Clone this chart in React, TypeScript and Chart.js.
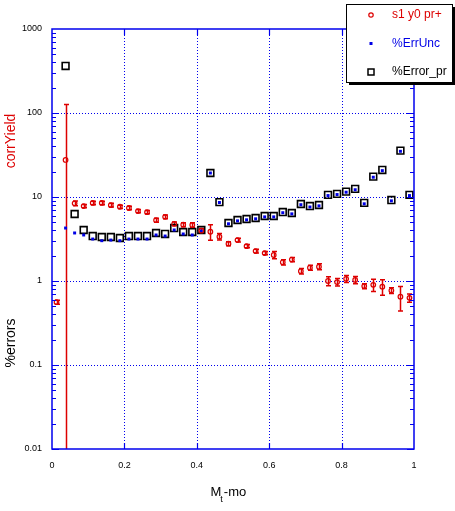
import React, { useEffect, useRef } from 'react';
import { Chart, registerables } from 'chart.js';

Chart.register(...registerables);

// bin centres along M_t - m0
const xBins = [
    0.0125, 0.0375, 0.0625, 0.0875, 0.1125, 0.1375, 0.1625, 0.1875, 0.2125, 0.2375,
    0.2625, 0.2875, 0.3125, 0.3375, 0.3625, 0.3875, 0.4125, 0.4375, 0.4625, 0.4875,
    0.5125, 0.5375, 0.5625, 0.5875, 0.6125, 0.6375, 0.6625, 0.6875, 0.7125, 0.7375,
    0.7625, 0.7875, 0.8125, 0.8375, 0.8625, 0.8875, 0.9125, 0.9375, 0.9625, 0.9875,
];

const corrYield = [
    0.56, 27.6, 8.4, 7.8, 8.5, 8.5, 8.0, 7.65, 7.4, 6.8,
    6.6, 5.3, 5.8, 4.8, 4.68, 4.64, 3.97, 3.86, 3.37, 2.78,
    3.07, 2.6, 2.27, 2.15, 2.04, 1.67, 1.8, 1.31, 1.44, 1.48,
    1.0, 0.97, 1.06, 1.03, 0.87, 0.9, 0.855, 0.77, 0.65, 0.63,
];

const corrYieldErr = [
    0.03, 99, 0.55, 0.35, 0.4, 0.4, 0.4, 0.35, 0.35, 0.3,
    0.3, 0.3, 0.3, 0.25, 0.25, 0.3, 0.25, 0.8, 0.3, 0.15,
    0.15, 0.12, 0.12, 0.1, 0.2, 0.12, 0.1, 0.1, 0.1, 0.12,
    0.12, 0.1, 0.1, 0.1, 0.06, 0.15, 0.18, 0.06, 0.21, 0.07,
];

const errUnc = [
    null, 4.27, 3.73, 3.53, 3.16, 3.02, 3.07, 3.02, 3.16, 3.16,
    3.16, 3.53, 3.43, 4.05, 3.63, 3.53, 3.94, 19.3, 8.6, 4.8,
    5.2, 5.35, 5.5, 5.8, 5.8, 6.5, 6.3, 8.1, 7.6, 7.85,
    10.4, 10.7, 11.4, 12.2, 8.3, 17.2, 20.6, 9.0, 35, 10.4,
];

const errorPr = [
    null, 363, 6.28, 4.05, 3.43, 3.34, 3.34, 3.25, 3.43, 3.43,
    3.43, 3.73, 3.63, 4.27, 3.83, 3.83, 4.05, 19.3, 8.7, 4.9,
    5.32, 5.47, 5.62, 5.94, 5.94, 6.62, 6.45, 8.25, 7.8, 8.03,
    10.6, 10.9, 11.6, 12.5, 8.5, 17.5, 21, 9.2, 35.6, 10.6,
];

const xTickValues = [0, 0.2, 0.4, 0.6, 0.8, 1];
const xTickLabels = ['0', '0.2', '0.4', '0.6', '0.8', '1'];
const yTickValues = [0.01, 0.1, 1, 10, 100, 1000];
const yTickLabels = ['0.01', '0.1', '1', '10', '100', '1000'];

const legendLabels = ['s1 y0 pr+', '%ErrUnc', '%Error_pr'];

const RED = '#dd0000';
const BLUE = '#0000e6';
const AXIS = '#0000ee';
const FONT = '"Liberation Sans", Arial, sans-serif';

const toPoints = (ys: (number | null)[]) =>
    xBins.map((x, i) => ({ x, y: ys[i] })).filter(p => p.y !== null) as { x: number; y: number }[];

const overlay = {
    id: 'overlay',
    beforeDatasetsDraw(chart: any) {
        const { ctx, chartArea: a, scales } = chart;
        const xs = scales.x;
        const ys = scales.y;
        ctx.save();
        // dotted grid at the major ticks
        ctx.strokeStyle = AXIS;
        ctx.lineWidth = 1;
        ctx.setLineDash([1, 2]);
        xTickValues.slice(1, -1).forEach(v => {
            const px = Math.round(xs.getPixelForValue(v)) + 0.5;
            ctx.beginPath();
            ctx.moveTo(px, a.top);
            ctx.lineTo(px, a.bottom);
            ctx.stroke();
        });
        yTickValues.slice(1, -1).forEach(v => {
            const py = Math.round(ys.getPixelForValue(v)) + 0.5;
            ctx.beginPath();
            ctx.moveTo(a.left, py);
            ctx.lineTo(a.right, py);
            ctx.stroke();
        });
        ctx.setLineDash([]);

        // error bars on corrYield
        ctx.beginPath();
        ctx.rect(a.left, a.top, a.right - a.left, a.bottom - a.top);
        ctx.clip();
        ctx.strokeStyle = RED;
        ctx.lineWidth = 1.5;
        xBins.forEach((x, i) => {
            const px = Math.round(xs.getPixelForValue(x)) + 0.5;
            const hi = corrYield[i] + corrYieldErr[i];
            const lo = corrYield[i] - corrYieldErr[i];
            const pyHi = ys.getPixelForValue(hi);
            const pyLo = lo > 0 ? ys.getPixelForValue(lo) : a.bottom + 5;
            ctx.beginPath();
            ctx.moveTo(px, pyHi);
            ctx.lineTo(px, pyLo);
            ctx.moveTo(px - 2.5, pyHi);
            ctx.lineTo(px + 2.5, pyHi);
            if (lo > 0) {
                ctx.moveTo(px - 2.5, pyLo);
                ctx.lineTo(px + 2.5, pyLo);
            }
            ctx.stroke();
        });
        ctx.restore();
    },
    afterDraw(chart: any) {
        const { ctx, chartArea: a, scales } = chart;
        const xs = scales.x;
        const ys = scales.y;
        ctx.save();

        // frame
        ctx.strokeStyle = AXIS;
        ctx.lineWidth = 1.5;
        ctx.strokeRect(a.left, a.top, a.right - a.left, a.bottom - a.top);

        // x ticks, top and bottom, inside
        ctx.lineWidth = 1.2;
        xTickValues.slice(1, -1).forEach(v => {
            const px = Math.round(xs.getPixelForValue(v)) + 0.5;
            ctx.beginPath();
            ctx.moveTo(px, a.bottom);
            ctx.lineTo(px, a.bottom - 6);
            ctx.moveTo(px, a.top);
            ctx.lineTo(px, a.top + 6);
            ctx.stroke();
        });

        // y ticks on both sides, inside, with log minors
        for (let e = -2; e < 3; e++) {
            for (let m = 1; m < 10; m++) {
                const v = m * Math.pow(10, e);
                const py = Math.round(ys.getPixelForValue(v)) + 0.5;
                const len = m === 1 ? 7 : 4;
                ctx.beginPath();
                ctx.moveTo(a.left, py);
                ctx.lineTo(a.left + len, py);
                ctx.moveTo(a.right, py);
                ctx.lineTo(a.right - len, py);
                ctx.stroke();
            }
        }

        // axis titles
        ctx.textAlign = 'center';
        ctx.textBaseline = 'middle';
        ctx.font = `14px ${FONT}`;
        ctx.save();
        ctx.translate(11, 141);
        ctx.rotate(-Math.PI / 2);
        ctx.fillStyle = RED;
        ctx.fillText('corrYield', 0, 0);
        ctx.restore();
        ctx.save();
        ctx.translate(11, 343);
        ctx.rotate(-Math.PI / 2);
        ctx.fillStyle = '#000';
        ctx.fillText('%errors', 0, 0);
        ctx.restore();

        ctx.fillStyle = '#000';
        ctx.textAlign = 'left';
        ctx.textBaseline = 'alphabetic';
        ctx.font = `13px ${FONT}`;
        let tx = 210.5;
        ctx.fillText('M', tx, 496);
        tx += ctx.measureText('M').width;
        ctx.font = `9px ${FONT}`;
        ctx.fillText('t', tx - 1, 502);
        tx += ctx.measureText('t').width;
        ctx.font = `13px ${FONT}`;
        ctx.fillText('-mo', tx, 496);

        // legend box with drop shadow
        const lx = 346, ly = 4, lw = 106, lh = 78;
        ctx.fillStyle = '#000';
        ctx.fillRect(lx + 3, ly + 3, lw, lh);
        ctx.fillStyle = '#fff';
        ctx.fillRect(lx, ly, lw, lh);
        ctx.strokeStyle = '#000';
        ctx.lineWidth = 1;
        ctx.strokeRect(lx + 0.5, ly + 0.5, lw, lh);

        const rows = [15, 43.5, 72];
        const colors = [RED, BLUE, '#000'];
        // markers
        ctx.strokeStyle = RED;
        ctx.lineWidth = 1.2;
        ctx.beginPath();
        ctx.arc(371, rows[0], 2.2, 0, Math.PI * 2);
        ctx.stroke();
        ctx.fillStyle = BLUE;
        ctx.fillRect(369.5, rows[1] - 1.5, 3, 3);
        ctx.strokeStyle = '#000';
        ctx.lineWidth = 1.5;
        ctx.strokeRect(368, rows[2] - 3, 6, 6);

        ctx.font = `12px ${FONT}`;
        ctx.textBaseline = 'middle';
        legendLabels.forEach((t, i) => {
            ctx.fillStyle = colors[i];
            ctx.fillText(t, 392, rows[i]);
        });
        ctx.restore();
    },
};

const ErrorsChart: React.FC = () => {
    const canvasRef = useRef<HTMLCanvasElement | null>(null);
    const chartRef = useRef<Chart | null>(null);

    useEffect(() => {
        if (!canvasRef.current) return;
        const ctx = canvasRef.current.getContext('2d');
        if (!ctx) return;
        if (chartRef.current) chartRef.current.destroy();

        const tickFont = { family: FONT, size: 9 };

        chartRef.current = new Chart(ctx, {
            type: 'scatter',
            data: {
                datasets: [
                    {
                        label: legendLabels[0],
                        data: toPoints(corrYield),
                        pointStyle: 'circle',
                        pointRadius: 2.3,
                        borderColor: RED,
                        backgroundColor: 'rgba(0,0,0,0)',
                        borderWidth: 1.2,
                    },
                    {
                        label: legendLabels[1],
                        data: toPoints(errUnc),
                        pointStyle: 'rect',
                        pointRadius: 2.1,
                        borderWidth: 0,
                        borderColor: BLUE,
                        backgroundColor: BLUE,
                    },
                    {
                        label: legendLabels[2],
                        data: toPoints(errorPr),
                        pointStyle: 'rect',
                        pointRadius: 4.8,
                        borderColor: '#000',
                        backgroundColor: 'rgba(0,0,0,0)',
                        borderWidth: 1.6,
                    },
                ],
            },
            options: {
                animation: false,
                responsive: false,
                events: [],
                layout: { padding: { top: 29, right: 41, left: 0, bottom: 0 } },
                plugins: {
                    legend: { display: false },
                    tooltip: { enabled: false },
                },
                scales: {
                    x: {
                        type: 'linear',
                        min: 0,
                        max: 1,
                        grid: { display: false, drawTicks: false },
                        border: { display: false },
                        ticks: {
                            padding: 11,
                            color: '#000',
                            font: tickFont,
                            maxRotation: 0,
                            callback: (v: any) => xTickLabels[xTickValues.indexOf(Number(v))] ?? '',
                        },
                        afterBuildTicks: (s: any) => {
                            s.ticks = xTickValues.map(value => ({ value }));
                        },
                        afterFit: (s: any) => {
                            s.height = 62;
                        },
                    },
                    y: {
                        type: 'logarithmic',
                        min: 0.01,
                        max: 1000,
                        grid: { display: false, drawTicks: false },
                        border: { display: false },
                        ticks: {
                            padding: 10,
                            color: '#000',
                            font: tickFont,
                            callback: (v: any) => {
                                const i = yTickValues.findIndex(t => Math.abs(t - Number(v)) < t * 1e-6);
                                return i >= 0 ? yTickLabels[i] : '';
                            },
                        },
                        afterBuildTicks: (s: any) => {
                            s.ticks = yTickValues.map(value => ({ value, major: true }));
                        },
                        afterFit: (s: any) => {
                            s.width = 52;
                        },
                    },
                },
            },
            plugins: [overlay],
        });

        return () => {
            if (chartRef.current) {
                chartRef.current.destroy();
                chartRef.current = null;
            }
        };
    }, []);

    return (
        <div style={{ position: 'fixed', left: 0, top: 0, width: 455, height: 511, background: '#fff' }}>
            <canvas ref={canvasRef} width={455} height={511} />
        </div>
    );
};

export default function App() {
    return <ErrorsChart />;
}
